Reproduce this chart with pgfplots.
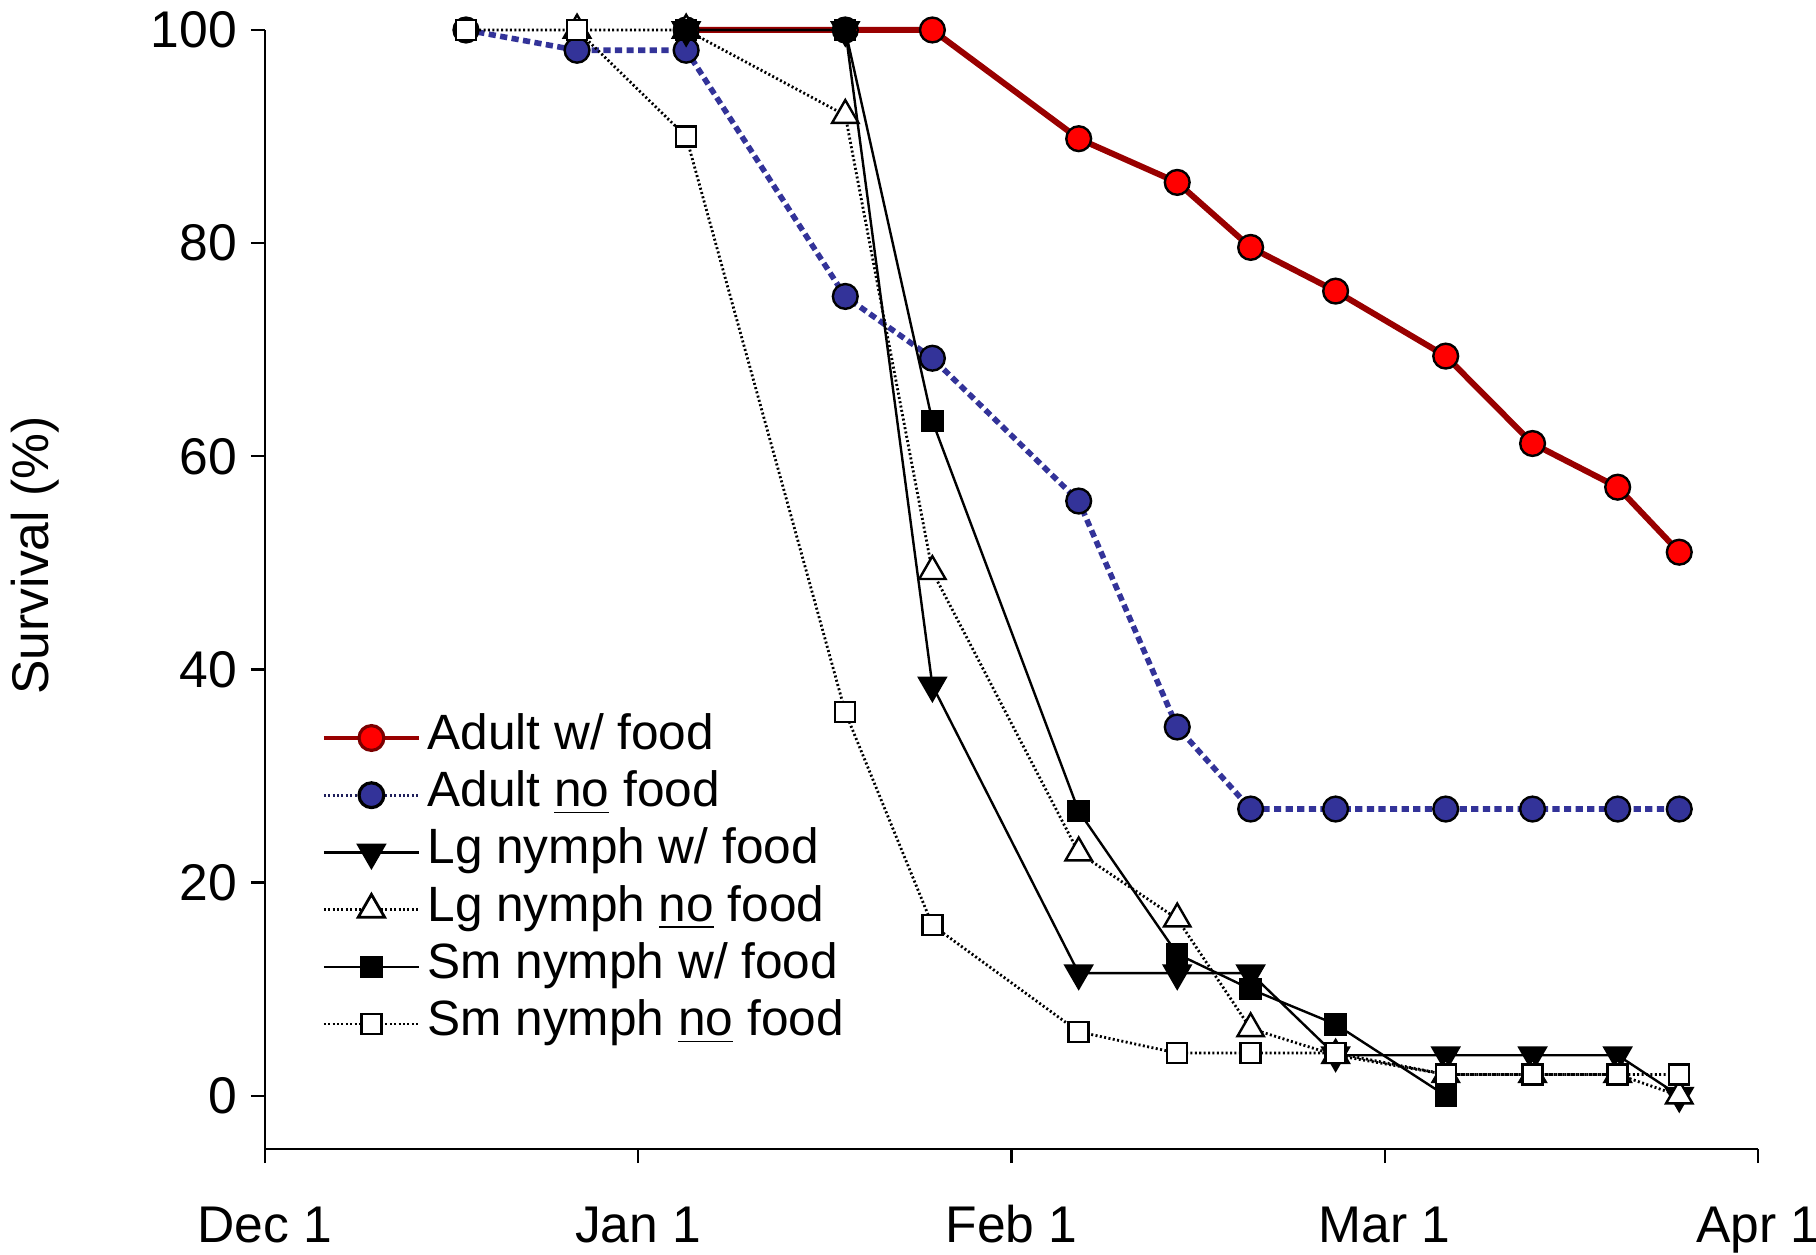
\documentclass[border=0pt]{standalone}
\usepackage{pgfplots}
\pgfplotsset{compat=1.18}
\usepackage{fontspec}
\setmainfont{Liberation Sans}

\definecolor{adultred}{RGB}{153,0,0}
\definecolor{markred}{RGB}{255,0,0}
\definecolor{adultblue}{RGB}{51,51,153}
\definecolor{legblue}{RGB}{30,30,90}

\begin{document}
\begin{tikzpicture}
\begin{axis}[
  scale only axis, width=373.25pt, height=279.75pt,
  xmin=0, xmax=120, ymin=-5, ymax=100,
  axis x line*=bottom, axis y line*=left,
  xtick={0,30,60,90,120}, xticklabels={Dec 1, Jan 1, Feb 1, Mar 1, Apr 1},
  ytick={0,20,40,60,80,100},
  tick align=outside, major tick length=3.5pt,
  tick style={black, line width=0.6pt},
  axis line style={black, line width=0.7pt},
  ticklabel style={font=\fontsize{12.9}{14}\selectfont},
  xticklabel style={anchor=base, yshift=-19.8pt},
  /pgf/number format/assume math mode=true,
  clip=false,
  legend style={draw=none, fill=none, at={(axis cs:4.6,36.25)}, anchor=north west,
    inner sep=0pt, outer sep=0pt, column sep=1.75pt, row sep=0pt,
    font=\fontsize{12.4}{14}\selectfont,
    nodes={inner sep=0pt, text height=10pt, text depth=4.3pt}},
  legend cell align=left,
  legend image code/.code={\draw[mark repeat=2, mark phase=2, #1] plot coordinates {(0pt,0pt) (11.9pt,0pt) (23.75pt,0pt)};},
]
% legend images
\addlegendimage{color=adultred, line width=0.8pt, mark=*, mark options={solid, fill=markred, draw=adultred!80!black, mark size=3.1pt}}
\addlegendentry{Adult w/ food}
\addlegendimage{color=legblue, line width=0.8pt, dash pattern=on 0.5pt off 0.6pt, mark=*, mark options={solid, fill=adultblue, draw=black, mark size=3.1pt}}
\addlegendentry{Adult \underline{no} food}
\addlegendimage{black, line width=0.6pt, mark=triangle*, mark options={solid, rotate=180, fill=black, mark size=3.8pt}}
\addlegendentry{Lg nymph w/ food}
\addlegendimage{black, line width=0.7pt, dash pattern=on 0.5pt off 0.6pt, mark=triangle*, mark options={solid, fill=white, mark size=3.8pt}}
\addlegendentry{Lg nymph \underline{no} food}
\addlegendimage{black, line width=0.6pt, mark=square*, mark options={solid, fill=black, mark size=2.5pt}}
\addlegendentry{Sm nymph w/ food}
\addlegendimage{black, line width=0.7pt, dash pattern=on 0.5pt off 0.6pt, mark=square*, mark options={solid, fill=white, mark size=2.5pt}}
\addlegendentry{Sm nymph \underline{no} food}

% Adult w/ food
\addplot[forget plot, color=adultred, line width=1.5pt, mark=*, mark options={solid, fill=markred, draw=black, line width=0.6pt, mark size=3.1pt}]
coordinates {(33.85,100) (46.64,100) (53.64,100) (65.40,89.8) (73.32,85.7) (79.22,79.6) (86.05,75.5) (94.9,69.4) (101.88,61.2) (108.72,57.1) (113.67,51.0)};
% Adult no food
\addplot[forget plot, color=adultblue, line width=1.4pt, dash pattern=on 1.8pt off 1.1pt, mark=*, mark options={solid, fill=adultblue, draw=black, line width=0.6pt, mark size=3.1pt}]
coordinates {(16.15,100) (25.08,98.1) (33.85,98.1) (46.64,75.0) (53.64,69.2) (65.40,55.8) (73.32,34.6) (79.22,26.9) (86.05,26.9) (94.9,26.9) (101.88,26.9) (108.72,26.9) (113.67,26.9)};
% Lg nymph w/ food
\addplot[forget plot, black, line width=0.6pt, mark=triangle*, mark options={solid, rotate=180, fill=black, mark size=3.8pt}]
coordinates {(33.85,100) (46.64,100) (53.64,38.5) (65.40,11.5) (73.32,11.5) (79.22,11.5) (86.05,3.8) (94.9,3.8) (101.88,3.8) (108.72,3.8) (113.67,0)};
% Lg nymph no food
\addplot[forget plot, black, line width=0.7pt, dash pattern=on 0.5pt off 0.6pt, mark=triangle*, mark options={solid, fill=white, line width=0.6pt, mark size=3.8pt}]
coordinates {(25.08,100) (33.85,100) (46.64,92.0) (53.64,49.2) (65.40,22.8) (73.32,16.6) (79.22,6.3) (86.05,3.8) (94.9,2.0) (101.88,2.0) (108.72,2.0) (113.67,0)};
% Sm nymph w/ food
\addplot[forget plot, black, line width=0.6pt, mark=square*, mark options={solid, fill=black, mark size=2.5pt}]
coordinates {(33.85,100) (46.64,100) (53.64,63.3) (65.40,26.7) (73.32,13.3) (79.22,10.0) (86.05,6.7) (94.9,0)};
% Sm nymph no food
\addplot[forget plot, black, line width=0.7pt, dash pattern=on 0.5pt off 0.6pt, mark=square*, mark options={solid, fill=white, line width=0.6pt, mark size=2.5pt}]
coordinates {(16.15,100) (25.08,100) (33.85,90.0) (46.64,36.0) (53.64,16.0) (65.40,6.0) (73.32,4.0) (79.22,4.0) (86.05,4.0) (94.9,2.0) (101.88,2.0) (108.72,2.0) (113.67,2.0)};

\node[rotate=90, anchor=center, font=\fontsize{12.9}{14}\selectfont] at (axis cs:-18.5,50.7) {Survival (\%)};
\end{axis}
\pgfresetboundingbox
\path[use as bounding box] ([xshift=-66.25pt,yshift=-26.25pt]current axis.south west) rectangle ([xshift=14.5pt,yshift=7.5pt]current axis.north east);
\end{tikzpicture}
\end{document}
